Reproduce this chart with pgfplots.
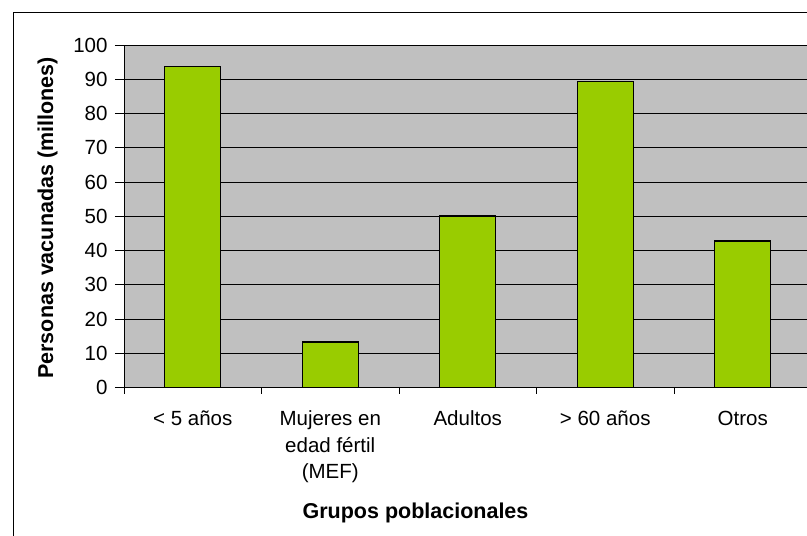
\documentclass[border=0pt]{standalone}
\usepackage{pgfplots}
\pgfplotsset{compat=1.18}
\usepackage{fontspec}
\setmainfont{Liberation Sans}
\definecolor{plotbg}{HTML}{C0C0C0}
\definecolor{barfill}{HTML}{99CC00}
\begin{document}
\begin{tikzpicture}
\useasboundingbox (0,0) rectangle (807pt,-536pt);
\clip (0,0) rectangle (807pt,-536pt);
\fill[white] (0,0) rectangle (807pt,-536pt);
\draw[line width=1pt] (13pt,-12pt) rectangle (840pt,-560pt);
\begin{axis}[
    at={(124pt,-387.5pt)}, anchor=south west,
    scale only axis, width=687.5pt, height=342.5pt,
    xmin=0.5, xmax=5.5, ymin=0, ymax=100,
    axis lines=left, axis line style={-, black, line width=0.9pt},
    axis background/.style={fill=plotbg, draw=gray, line width=1pt},
    ytick={0,10,...,100},
    ymajorgrids, grid style={black, line width=0.8pt},
    tick align=outside, major tick length=9pt,
    tick style={black, line width=0.9pt},
    xtick={1,2,3,4,5},
    xtick style={draw=none},
    xticklabels={{< 5 años},{Mujeres en\\edad fértil\\(MEF)},{Adultos},{> 60 años},{Otros}},
    xticklabel style={align=center, font=\fontsize{20.5}{26.5}\selectfont, anchor=north, yshift=-11pt},
    yticklabel style={font=\fontsize{20.5}{24}\selectfont, xshift=-4pt},
    /pgf/number format/assume math mode=true,
    extra x ticks={0.5,1.5,2.5,3.5,4.5,5.5},
    extra x tick labels={},
    extra x tick style={major tick length=6pt, grid=none, xtick style={draw=black}},
    ybar, bar width=56pt,
]
\addplot[fill=barfill, draw=black, line width=1.2pt] coordinates {(1,93.7) (2,13.3) (3,50.1) (4,89.3) (5,42.8)};
\end{axis}
\node[font=\fontsize{21.5}{24}\selectfont\bfseries, anchor=base] at (415.5pt,-518pt) {Grupos poblacionales};
\node[font=\fontsize{21.5}{24}\selectfont\bfseries, rotate=90, anchor=base] at (53pt,-218pt) {Personas vacunadas (millones)};
\end{tikzpicture}
\end{document}
